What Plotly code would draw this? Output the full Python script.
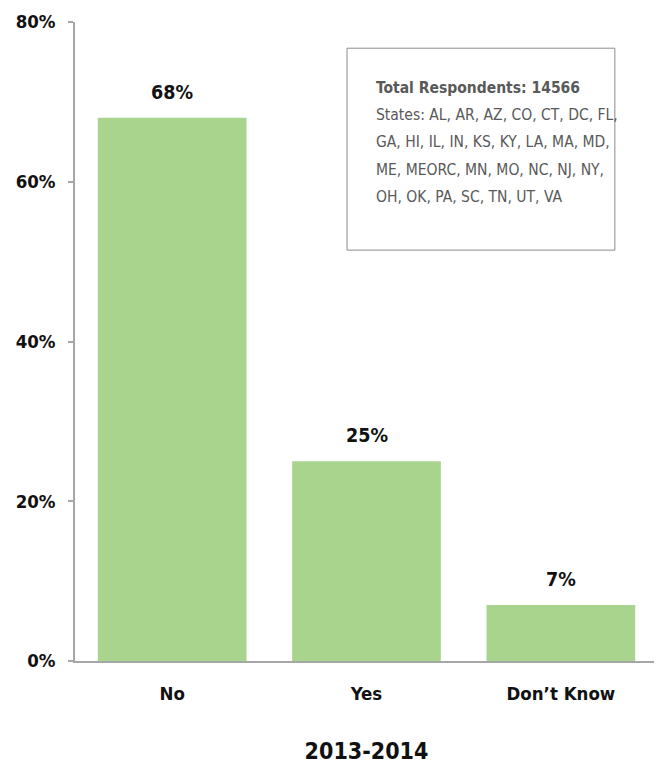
import plotly.graph_objects as go

categories = ["No", "Yes", "Don\u2019t Know"]
values = [68, 25, 7]
value_labels = ["68%", "25%", "7%"]
tick_vals = [0, 20, 40, 60, 80]
tick_text = ["0%", "20%", "40%", "60%", "80%"]
x_title = "2013-2014"
box_title = "Total Respondents: 14566"
box_lines = [
    "States: AL, AR, AZ, CO, CT, DC, FL,",
    "GA, HI, IL, IN, KS, KY, LA, MA, MD,",
    "ME, MEORC, MN, MO, NC, NJ, NY,",
    "OH, OK, PA, SC, TN, UT, VA",
]

FONT = "DejaVu Sans Condensed, Liberation Sans Narrow, Arial Narrow, DejaVu Sans, sans-serif"

fig = go.Figure()
fig.add_trace(go.Bar(
    x=categories, y=values,
    marker=dict(color="#a9d48e", line=dict(width=0)),
    hoverinfo="skip",
))

for c, v, t in zip(categories, values, value_labels):
    fig.add_annotation(
        x=c, y=v, xref="x", yref="y", text="<b>%s</b>" % t, showarrow=False,
        yanchor="bottom", yshift=12,
        font=dict(family=FONT, size=19.5, color="#111111"),
    )

fig.update_layout(
    width=654, height=757,
    margin=dict(l=67, r=4, t=14, b=104),
    paper_bgcolor="white", plot_bgcolor="white",
    bargap=0.235,
    showlegend=False,
    font=dict(family=FONT, color="#111111"),
    xaxis=dict(
        tickvals=categories, ticktext=["<b>%s</b>" % c for c in categories],
        showline=True, linecolor="#a6a6a6", linewidth=1.5,
        ticks="", showgrid=False, ticklabelstandoff=15,
        tickfont=dict(family=FONT, size=18.5, color="#111111"),
        title=dict(text="<b>" + x_title + "</b>", font=dict(family=FONT, size=23, color="#111111"), standoff=40),
    ),
    yaxis=dict(
        range=[0, 80], tickvals=tick_vals, ticktext=["<b>%s</b>" % t for t in tick_text],
        showline=True, linecolor="#a6a6a6", linewidth=1.5,
        ticks="outside", ticklen=5, tickcolor="#a6a6a6", tickwidth=1.5,
        showgrid=False, zeroline=False, ticklabelstandoff=9,
        tickfont=dict(family=FONT, size=18.5, color="#111111"),
    ),
)

# info box
fig.add_shape(
    type="rect", xref="paper", yref="paper",
    x0=0.4666, x1=0.926, y0=0.643, y1=0.959,
    line=dict(color="#8c8c8c", width=1), fillcolor="white", layer="above",
)
line_y = [0.8967, 0.8545, 0.8122, 0.7684, 0.7261]
texts = ["<b>" + box_title + "</b>"] + box_lines
for yy, tx in zip(line_y, texts):
    fig.add_annotation(
        xref="paper", yref="paper", x=0.513, y=yy, xanchor="left", yanchor="middle",
        text=tx, showarrow=False, align="left",
        font=dict(family=FONT, size=15.5, color="#595959"),
    )

fig.write_html("out.html")
